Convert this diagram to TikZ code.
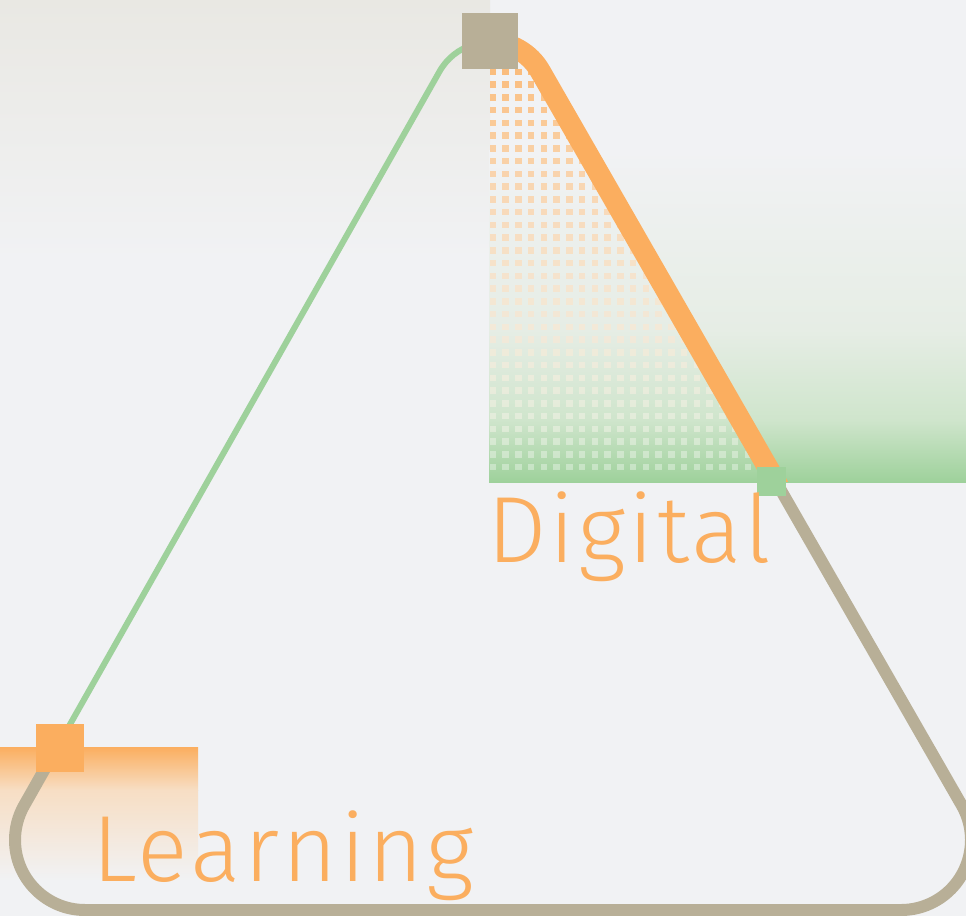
\documentclass[tikz,border=0pt]{standalone}
\usepackage{fontspec}
\newfontfamily\labelfont{Fira Sans Light}[LetterSpace=3.3]
\usetikzlibrary{positioning}

\definecolor{canvas}{HTML}{F1F2F4}
\definecolor{haze}{HTML}{E9E8E3}
\definecolor{sand}{HTML}{B8AF97}
\definecolor{apricot}{HTML}{FBAE5F}
\definecolor{peach}{HTML}{F7DEC4}
\definecolor{mint}{HTML}{9ED19B}
\definecolor{mintpale}{HTML}{E6EDE5}
\definecolor{mintmid}{HTML}{CFE5CC}

\tikzset{
    marker/.style={draw=none, inner sep=0pt, outer sep=0pt},
    word/.style={anchor=base west, inner sep=0pt, text=apricot,
        font=\labelfont\fontsize{47}{47}\selectfont},
    edge/.style={line join=round}
}

\begin{document}
\begin{tikzpicture}[x=0.5pt,y=-0.5pt]
    \useasboundingbox (0,0) rectangle (966,916);
    \fill[canvas] (0,0) rectangle (966,916);

    % Soft panels behind the triangle
    \shade[top color=haze, bottom color=canvas] (0,0) rectangle (490,260);
    \shade[top color=canvas, bottom color=mintpale] (489,150) rectangle (966,330);
    \shade[top color=mintpale, bottom color=mintmid] (489,330) rectangle (966,420);
    \shade[top color=mintmid, bottom color=mint] (489,420) rectangle (966,482);
    \shade[top color=apricot, bottom color=peach] (0,747) rectangle (198,790);
    \shade[top color=peach, bottom color=canvas] (0,790) rectangle (198,880);

    % Dot grid under the digital edge
    \begin{scope}
        \clip (489,0) -- (499,0) -- (775,481) -- (489,481) -- cycle;
        \foreach \r in {0,...,31} {
            \pgfmathtruncatemacro{\tint}{88-\r*88/31}
            \pgfmathsetmacro{\alpha}{0.9-0.55*\r/31}
            \foreach \c in {0,...,22} {
                \fill[apricot!\tint!white, opacity=\alpha]
                    (489.5+\c*12.75,68.5+\r*12.75) rectangle ++(6.5,6.5);
            }
        }
    \end{scope}

    % Rounded triangle outline
    \path[save path=\rim] (85,910)
        arc[start angle=-90, end angle=-208.7, radius=35pt] -- (439.1,72.2)
        arc[start angle=151.3, end angle=28.7, radius=29pt] -- (962.4,806.4)
        arc[start angle=28.7, end angle=-90, radius=35pt] -- cycle;

    % Green edge
    \begin{scope}
        \clip (-100,-100) rectangle (491,748);
        \draw[edge, mint, line width=3pt, use path=\rim];
    \end{scope}

    % Orange edge
    \begin{scope}
        \clip (491,-100) rectangle (1100,481);
        \draw[edge, apricot, line width=10.5pt, use path=\rim];
    \end{scope}

    % Sand edge
    \begin{scope}
        \clip (-100,748) -- (491,748) -- (491,481) -- (1100,481) -- (1100,1000) -- (-100,1000) -- cycle;
        \draw[edge, sand, line width=6pt, use path=\rim];
    \end{scope}

    % Markers
    \node[marker, fill=sand, minimum size=28pt] (peak) at (490,41) {};
    \node[marker, fill=apricot, minimum size=24pt] (learnpt) at (60,748) {};
    \node[marker, fill=mint, minimum size=14.5pt] (digitpt) at (771.5,481.5) {};

    % Labels
    \node[word] (digital) at (487,562) {Digital};
    \node[word] (learning) at (92,881) {Learning};
\end{tikzpicture}
\end{document}
